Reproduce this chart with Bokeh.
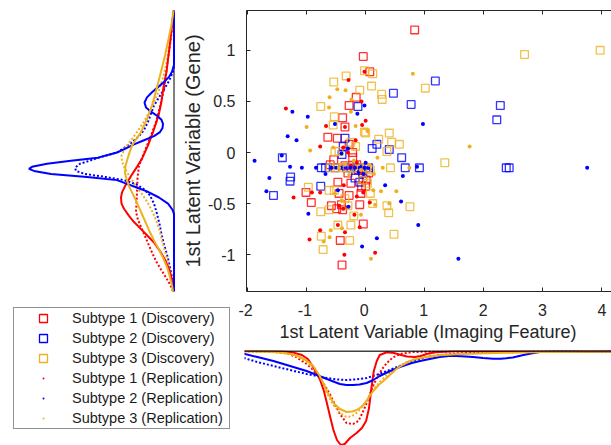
from bokeh.plotting import figure
from bokeh.models import Range1d, FixedTicker, LinearAxis, Title, Span, Legend, LegendItem
from bokeh.layouts import column, row
from bokeh.embed import file_html
from bokeh.resources import INLINE

# ---------------- data ----------------
X_TICKS = [-2, -1, 0, 1, 2, 3, 4]
X_TICK_LABELS = ["-2", "-1", "0", "1", "2", "3", "4"]
Y_TICKS = [-1, -0.5, 0, 0.5, 1]
Y_TICK_LABELS = ["-1", "-0.5", "0", "0.5", "1"]
X_LABEL = "1st Latent Variable (Imaging Feature)"
Y_LABEL = "1st Latent Variable (Gene)"
SERIES_LABELS = ["Subtype 1 (Discovery)", "Subtype 2 (Discovery)", "Subtype 3 (Discovery)",
                 "Subtype 1 (Replication)", "Subtype 2 (Replication)", "Subtype 3 (Replication)"]

# scatter: discovery (squares)
S1_DISC_X = [0.83, -0.04, 0.07, -0.16, -0.28, -0.39, -0.35, -0.64, -0.48, -0.28, -0.22, -0.54, -0.35, -0.12, -0.30,
             -0.60, -0.15, 0.05, -0.47, -0.07, -0.25, -1.01, -0.92, -0.28, -0.08, 0.01, -0.45, -0.58, -0.49, -0.41,
             -0.39, -0.10, -0.04, -0.43, -0.40, -0.22, -0.05, 0.00]
S1_DISC_Y = [1.20, 0.94, 0.79, 0.54, 0.46, 0.34, 0.25, 0.15, 0.14, 0.08, -0.05, -0.07, -0.13, -0.17, -0.20,
             -0.12, -0.12, -0.20, -0.29, -0.34, -0.30, -0.39, -0.49, -0.42, -0.40, -0.27, -0.40, -0.52, -0.55, -0.51,
             -0.56, -0.51, -0.70, -0.86, -1.10, 0.00, -0.25, -0.33]
S2_DISC_X = [1.18, 0.47, 0.77, -0.13, 2.28, 2.22, -1.41, -1.27, -1.28, -1.56, 0.11, 0.19, 0.40, 0.61, 0.67, 0.91,
             2.38, 2.43, -0.35, -0.38, -0.75, -0.68, -0.76, -0.32, -0.18, -0.10, 0.00, -0.52, -0.25, -0.05, -0.40,
             -0.15, 0.05]
S2_DISC_Y = [0.70, 0.58, 0.47, 0.45, 0.46, 0.32, -0.05, -0.24, -0.28, -0.42, 0.04, 0.08, 0.03, -0.05, -0.15, -0.15,
             -0.15, -0.15, 0.14, 0.06, -0.15, -0.15, -0.33, -0.15, -0.25, -0.29, -0.15, -0.15, -0.15, -0.20, -0.02,
             -0.15, -0.15]
S3_DISC_X = [2.69, 3.97, -0.33, -0.02, 0.12, -0.54, 0.10, -0.10, 1.01, 0.27, 0.28, -0.76, -0.53, -0.55, -0.02,
             0.00, 0.40, 0.22, 0.44, 0.57, 0.36, -0.25, -0.17, -0.52, -0.45, 1.34, 0.42, -0.60, -0.50, -0.40,
             -0.30, -0.20, -0.10, 0.02, 0.08, -0.05, 0.03, -0.97, -0.62, -0.53, 0.08, 0.12, 0.36, 0.39, 0.75,
             -0.76, -0.62, -0.20, -0.47, -0.25, 0.48, -0.75, -0.27, -0.72, -0.35, -0.30]
S3_DISC_Y = [0.96, 1.00, 0.75, 0.80, 0.77, 0.69, 0.65, 0.61, 0.63, 0.57, 0.52, 0.45, 0.35, 0.27, 0.20,
             0.19, 0.19, 0.13, 0.10, 0.08, 0.01, 0.10, 0.06, 0.01, 0.01, -0.10, -0.15, -0.15, -0.15, -0.15,
             -0.15, -0.15, -0.15, -0.15, -0.17, -0.27, -0.30, -0.34, -0.37, -0.37, -0.40, -0.50, -0.52, -0.59, -0.53,
             -0.58, -0.56, -0.62, -0.71, -0.71, -0.80, -0.82, -0.86, -0.95, -0.45, -0.52]
# scatter: replication (dots)
S1_REP_X = [-1.35, -0.29, -0.02, -0.07, 0.00, -0.06, -0.67, -0.35, -0.77, -0.17, -0.38, -1.22, -0.91, -0.77, -0.37,
            -0.15, -0.04, 0.07, -0.19, -0.10, -0.47, -0.77, -0.35, -0.95, -0.36, 0.16, -0.15, -0.08, -0.25, -0.45,
            -0.38, -0.30]
S1_REP_Y = [0.43, 0.71, 0.79, 0.50, 0.31, 0.27, 0.26, 0.25, 0.06, 0.12, 0.05, -0.44, -0.39, -0.39, -0.32,
            -0.43, -0.39, -0.49, -0.61, -0.73, -0.71, -0.76, -0.78, -0.85, -1.00, -0.98, -0.10, -0.18, -0.13, -0.52,
            -0.55, 0.00]
S2_REP_X = [-1.88, -1.24, -0.98, -1.32, -1.17, -1.42, -1.28, -1.08, -0.84, -1.63, -1.68, -0.68, -0.97, -0.47, -0.29,
            -0.02, -0.14, -0.52, 0.97, -0.30, -0.41, 0.63, 0.33, 0.60, 0.89, 0.19, -0.06, 1.57, 3.75, 0.87,
            -0.58, -0.50, -0.42, -0.34, -0.26, -0.18, -0.10, -0.02, 0.04, -0.04, -0.12, 0.00]
S2_REP_Y = [-0.08, 0.40, 0.35, 0.16, 0.12, -0.03, -0.14, -0.15, -0.15, -0.25, -0.38, -0.21, -0.60, -0.37, -0.53,
            0.46, 0.38, 0.28, 0.28, 0.04, -0.01, -0.23, -0.32, -0.48, -0.71, -0.84, -0.92, -1.04, -0.15, -0.14,
            -0.15, -0.15, -0.15, -0.15, -0.15, -0.15, -0.15, -0.15, -0.15, -0.21, -0.19, -0.10]
S3_REP_X = [0.80, -0.48, -0.34, -0.61, -0.24, -0.62, -1.00, -0.17, 0.03, -0.94, 1.76, 0.20, 0.29, 0.74, 0.14,
            0.13, 0.26, 0.52, 0.16, 0.40, -0.08, -0.40, -0.59, -0.61, -0.71, 0.09, -0.45, -0.35, -0.20, -0.08,
            0.06, -0.28, -0.52, -0.40, -0.25, -0.55]
S3_REP_Y = [0.77, 0.62, 0.61, 0.54, 0.52, 0.44, 0.25, 0.26, 0.21, 0.02, 0.06, -0.05, -0.15, -0.15, -0.21,
            -0.37, -0.38, -0.38, -0.51, -0.50, -0.61, -0.74, -0.76, -0.83, -0.87, -1.04, -0.15, -0.12, -0.08, -0.17,
            -0.12, -0.22, -0.40, -0.47, 0.40, 0.05]

# marginal densities along the gene axis (relative density units)
GENE_S1_DISC_Y = [1.39, 1.29, 1.11, 0.95, 0.79, 0.64, 0.50, 0.36, 0.20, 0.07, -0.06, -0.14, -0.23, -0.31, -0.39,
                  -0.44, -0.50, -0.55, -0.62, -0.68, -0.75, -0.81, -0.88, -0.98, -1.06, -1.14, -1.22, -1.30, -1.36]
GENE_S1_DISC_D = [0.3, 1.5, 3.5, 5.5, 7.5, 10.5, 12.5, 15.5, 21, 26, 32, 37, 43, 48, 52,
                  53, 52.5, 50, 45, 40, 33, 27, 20, 13, 8.5, 5, 2.5, 1, 0.5]
GENE_S2_DISC_Y = [1.39, 0.86, 0.79, 0.74, 0.69, 0.64, 0.59, 0.54, 0.49, 0.44, 0.40, 0.36, 0.32, 0.28, 0.24, 0.20,
                  0.16, 0.12, 0.08, 0.04, 0.00, -0.05, -0.08, -0.11, -0.14, -0.16, -0.18, -0.21, -0.24, -0.27,
                  -0.30, -0.34, -0.38, -0.44, -0.50, -0.56, -0.60, -1.36]
GENE_S2_DISC_D = [0, 0, 2, 5, 10, 16, 22, 27, 29.5, 28, 23, 17, 12.5, 11, 11.5, 14,
                  20, 30, 40, 48, 57, 76, 103, 127, 142, 145, 140, 123, 87, 57,
                  49, 38, 27, 15, 6, 1.5, 0, 0]
GENE_S3_DISC_Y = [1.39, 1.25, 1.11, 0.95, 0.79, 0.62, 0.46, 0.33, 0.20, 0.07, -0.03, -0.13, -0.20, -0.26, -0.33,
                  -0.39, -0.47, -0.58, -0.67, -0.76, -0.86, -0.95, -1.04, -1.12, -1.20, -1.30, -1.36]
GENE_S3_DISC_D = [0.5, 2.5, 5.5, 9, 13, 17.5, 22, 27, 33, 42, 45.5, 48.5, 49, 47.5, 45,
                  42, 38, 33, 29, 25, 20, 15, 10.5, 7, 4.5, 2, 1]
GENE_S1_REP_Y = [1.39, 1.20, 1.05, 0.85, 0.62, 0.45, 0.30, 0.18, 0.07, -0.03, -0.13, -0.25, -0.39, -0.50, -0.58,
                 -0.66, -0.75, -0.83, -0.91, -1.00, -1.08, -1.16, -1.24, -1.30, -1.36]
GENE_S1_REP_D = [0.5, 2, 4, 7, 10, 14, 18, 22.5, 27, 31, 35, 36.5, 37, 37.5, 38,
                 36, 32, 28.5, 25, 21, 17, 12, 7, 3.5, 1]
GENE_S2_REP_Y = [1.39, 0.84, 0.79, 0.70, 0.62, 0.54, 0.46, 0.38, 0.30, 0.22, 0.16, 0.10, 0.05, 0.00, -0.05,
                 -0.11, -0.15, -0.18, -0.21, -0.24, -0.27, -0.31, -0.36, -0.42, -0.50, -0.60, -0.70, -0.80, -0.90,
                 -1.00, -1.10, -1.20, -1.30, -1.36]
GENE_S2_REP_D = [0, 0, 1, 5, 10, 15, 20, 23, 26, 30, 35, 42, 49, 57, 75,
                 94, 99, 98, 89, 68, 50, 38, 30, 24, 20, 17, 14.5, 12.5, 10,
                 7, 4.5, 2.5, 1, 0.5]
GENE_S3_REP_Y = [1.39, 1.20, 1.05, 0.90, 0.75, 0.61, 0.50, 0.41, 0.32, 0.22, 0.12, 0.04, -0.03, -0.09, -0.16,
                 -0.24, -0.32, -0.40, -0.48, -0.56, -0.66, -0.76, -0.86, -0.95, -1.04, -1.14, -1.26, -1.36]
GENE_S3_REP_D = [0.3, 2.5, 4.5, 7, 10.5, 15, 19.5, 24, 29, 35.5, 43, 49, 52.5, 52, 49,
                 44, 38.5, 32.5, 27, 22.5, 18, 14.5, 12, 9.5, 7, 4.5, 2, 0.7]

# marginal densities along the imaging axis (relative density units)
IMG_S1_DISC_X = [-2.03, -1.40, -1.20, -1.05, -0.95, -0.86, -0.75, -0.68, -0.63, -0.57, -0.52, -0.46, -0.41, -0.38,
                 -0.33, -0.24, -0.13, -0.04, 0.03, 0.08, 0.12, 0.16, 0.21, 0.26, 0.38, 0.50, 0.62, 0.72, 0.85,
                 0.95, 1.05, 1.20, 1.50, 4.20]
IMG_S1_DISC_D = [0, 0.3, 1.5, 4, 8, 16, 28, 40, 52, 67, 79, 89, 93, 94,
                 93, 87, 82, 77, 70, 57, 37, 20, 10, 4, 1.3, 2, 4, 5.5, 6,
                 5, 3, 1.2, 0.3, 0]
IMG_S2_DISC_X = [-2.03, -1.80, -1.53, -1.25, -0.97, -0.80, -0.63, -0.50, -0.41, -0.30, -0.19, -0.08, 0.04, 0.15,
                 0.26, 0.40, 0.60, 0.80, 0.94, 1.10, 1.27, 1.42, 1.55, 1.70, 1.83, 2.00, 2.17, 2.30, 2.39, 2.50,
                 2.68, 2.85, 2.96, 3.20, 3.50, 3.75, 4.20]
IMG_S2_DISC_D = [2.7, 6, 10, 15, 20, 24, 28, 31, 33, 34, 34, 33.5, 32, 29,
                 25, 21, 16, 12, 10, 8, 6, 5, 5, 5.5, 6, 7, 7.7, 7.8, 7.3, 6.5,
                 4, 2, 1, 0.5, 0.5, 0.8, 0.5]
IMG_S3_DISC_X = [-2.03, -1.60, -1.36, -1.20, -1.08, -0.97, -0.86, -0.75, -0.63, -0.52, -0.41, -0.30, -0.20, -0.13,
                 -0.05, 0.01, 0.08, 0.15, 0.24, 0.32, 0.43, 0.54, 0.66, 0.77, 0.90, 1.05, 1.27, 1.55, 1.90, 2.39,
                 3.00, 4.20]
IMG_S3_DISC_D = [0.2, 0.7, 1.7, 3.5, 6, 9.5, 15, 25, 40, 52, 58, 61, 60.5, 59,
                 56, 52, 46, 40, 34, 30, 24, 18, 13.5, 10, 7.5, 6, 4.3, 3.3, 2.5, 1.7,
                 1.1, 0.7]
IMG_S1_REP_X = [-2.03, -1.50, -1.30, -1.15, -0.97, -0.86, -0.75, -0.66, -0.58, -0.50, -0.41, -0.30, -0.19, -0.10,
                -0.04, 0.02, 0.07, 0.14, 0.21, 0.30, 0.38, 0.48, 0.60, 0.82, 1.20, 4.20]
IMG_S1_REP_D = [0.3, 0.8, 2.5, 6, 13, 19, 27, 35, 43, 53, 63, 72, 73, 70,
                63, 55, 47, 36, 27, 18, 12, 6.5, 3, 1, 0.5, 0.3]
IMG_S2_REP_X = [-2.03, -1.80, -1.53, -1.25, -0.97, -0.80, -0.63, -0.45, -0.30, -0.15, 0.04, 0.20, 0.38, 0.55,
                0.71, 0.88, 1.05, 1.25, 1.50, 1.80, 2.10, 2.50, 3.00, 3.50, 3.75, 4.20]
IMG_S2_REP_D = [7, 11, 15, 19, 23, 25, 27, 28.5, 29, 28.5, 27, 24, 20, 16,
                12, 9, 6, 4.2, 3, 2, 1.3, 1, 0.8, 0.8, 1, 0.8]
IMG_S3_REP_X = [-2.03, -1.60, -1.36, -1.20, -1.08, -0.97, -0.86, -0.75, -0.63, -0.52, -0.41, -0.30, -0.22, -0.13,
                -0.05, 0.03, 0.10, 0.18, 0.26, 0.38, 0.54, 0.70, 0.85, 1.05, 1.27, 1.55, 2.00, 2.60, 3.20, 4.20]
IMG_S3_REP_D = [0.2, 0.8, 2, 4, 7, 11, 17, 27, 42, 54, 62, 66, 65.5, 62,
                57, 51, 44, 37, 31, 24, 17, 11.5, 8, 5.5, 4, 3, 2, 1.3, 0.9, 0.5]

# ---------------- styling ----------------
FONT = "Liberation Sans"
AX = "#262626"
RED, BLUE, ORANGE = "#FF0000", "#0000FF", "#EDB120"
COLORS = [RED, BLUE, ORANGE]
LW = 2
DOT = "2 2"
NAN = float("nan")

xr = Range1d(-2.017, 4.162)
yr = Range1d(-1.36, 1.39)


def base_fig(**kw):
    return figure(output_backend="svg", toolbar_location=None, x_axis_type=None, y_axis_type=None,
                  background_fill_color="white", border_fill_color="white", outline_line_color=None, **kw)


def style_ticks(ax):
    ax.major_tick_in = 4
    ax.major_tick_out = 0
    ax.minor_tick_in = 0
    ax.minor_tick_out = 0
    ax.axis_line_color = AX
    ax.major_tick_line_color = AX
    ax.major_label_text_color = AX
    ax.major_label_text_font = FONT
    ax.major_label_text_font_size = "16px"


# ---------------- main scatter ----------------
M = base_fig(width=433, height=292, x_range=xr, y_range=yr,
             min_border_left=66, min_border_right=0, min_border_top=10, min_border_bottom=1)

yax = LinearAxis(ticker=FixedTicker(ticks=Y_TICKS),
                 major_label_overrides=dict(zip(Y_TICKS, Y_TICK_LABELS)),
                 axis_label=Y_LABEL)
style_ticks(yax)
yax.major_label_standoff = 11
yax.axis_label_standoff = 1
yax.axis_label_text_font = FONT
yax.axis_label_text_font_size = "20px"
yax.axis_label_text_font_style = "normal"
yax.axis_label_text_color = AX
M.add_layout(yax, "left")

for side in ("below", "above"):
    ax = LinearAxis(ticker=FixedTicker(ticks=X_TICKS),
                    major_label_overrides={t: "" for t in X_TICKS})
    style_ticks(ax)
    ax.major_label_standoff = 0
    M.add_layout(ax, side)

sq = dict(marker="square", size=7.7, fill_color=None, line_width=1.3, line_alpha=0.8)
M.scatter(S1_DISC_X, S1_DISC_Y, line_color=RED, **sq)
M.scatter(S2_DISC_X, S2_DISC_Y, line_color=BLUE, **sq)
M.scatter(S3_DISC_X, S3_DISC_Y, line_color=ORANGE, **sq)
dt = dict(marker="circle", size=4, line_color=None)
M.scatter(S1_REP_X, S1_REP_Y, fill_color=RED, **dt)
M.scatter(S2_REP_X, S2_REP_Y, fill_color=BLUE, **dt)
M.scatter(S3_REP_X, S3_REP_Y, fill_color=ORANGE, **dt)

# ---------------- left marginal (gene) ----------------
L = base_fig(width=178, height=292, x_range=Range1d(153.5, -2.5), y_range=yr,
             min_border_left=20, min_border_right=2, min_border_top=10, min_border_bottom=1)
L.add_layout(Span(location=0, dimension="height", line_color="#808080", line_width=2, level="underlay"))
gene_rep = [(GENE_S1_REP_D, GENE_S1_REP_Y), (GENE_S2_REP_D, GENE_S2_REP_Y), (GENE_S3_REP_D, GENE_S3_REP_Y)]
gene_disc = [(GENE_S1_DISC_D, GENE_S1_DISC_Y), (GENE_S2_DISC_D, GENE_S2_DISC_Y), (GENE_S3_DISC_D, GENE_S3_DISC_Y)]
for (d, y), c in zip(gene_rep, COLORS):
    L.line(d, y, line_color=c, line_width=LW, line_dash=DOT)
for (d, y), c in zip(gene_disc, COLORS):
    L.line(d, y, line_color=c, line_width=LW)

# ---------------- bottom marginal (imaging) ----------------
B = base_fig(width=375, height=153, x_range=xr, y_range=Range1d(94.5, -0.5),
             min_border_left=8, min_border_right=0, min_border_top=58, min_border_bottom=0)
B.add_layout(Title(text=X_LABEL, text_font=FONT, text_font_size="18px", text_font_style="normal",
                   text_color=AX, align="center", vertical_align="top", standoff=14, offset=3), "above")
xax = LinearAxis(ticker=FixedTicker(ticks=X_TICKS),
                 major_label_overrides=dict(zip(X_TICKS, X_TICK_LABELS)))
style_ticks(xax)
xax.major_tick_in = 0
xax.axis_line_color = None
xax.major_label_standoff = -1
B.add_layout(xax, "above")
img_rep = [(IMG_S1_REP_X, IMG_S1_REP_D), (IMG_S2_REP_X, IMG_S2_REP_D), (IMG_S3_REP_X, IMG_S3_REP_D)]
img_disc = [(IMG_S1_DISC_X, IMG_S1_DISC_D), (IMG_S2_DISC_X, IMG_S2_DISC_D), (IMG_S3_DISC_X, IMG_S3_DISC_D)]
for (x, d), c in zip(img_rep, COLORS):
    B.line(x, d, line_color=c, line_width=LW, line_dash=DOT)
for (x, d), c in zip(img_disc, COLORS):
    B.line(x, d, line_color=c, line_width=LW)
B.add_layout(Span(location=0, dimension="width", line_color="black", line_width=1.5))

# ---------------- legend ----------------
G = base_fig(width=236, height=153, x_range=Range1d(0, 1), y_range=Range1d(0, 1),
             min_border_left=0, min_border_right=0, min_border_top=0, min_border_bottom=0)
rs = []
for c in COLORS:
    rs.append(G.scatter([NAN], [NAN], marker="square", fill_color=None, line_color=c, line_width=1.3))
for c in COLORS:
    rs.append(G.scatter([NAN], [NAN], marker="dot", line_color=c, fill_color=c, line_width=1.5))
leg = Legend(items=[LegendItem(label=lab, renderers=[r]) for lab, r in zip(SERIES_LABELS, rs)],
             location=(13, 16), padding=0, spacing=0, margin=0,
             glyph_width=58, glyph_height=20, label_height=20, label_standoff=0, label_width=157,
             label_text_font=FONT, label_text_font_size="14.5px", label_text_color="#1a1a1a",
             border_line_color=AX, border_line_width=1, background_fill_color="white", background_fill_alpha=1)
G.add_layout(leg, "left")

layout = column(row(L, M), row(G, B))
open("out.html", "w").write(file_html(layout, INLINE))
